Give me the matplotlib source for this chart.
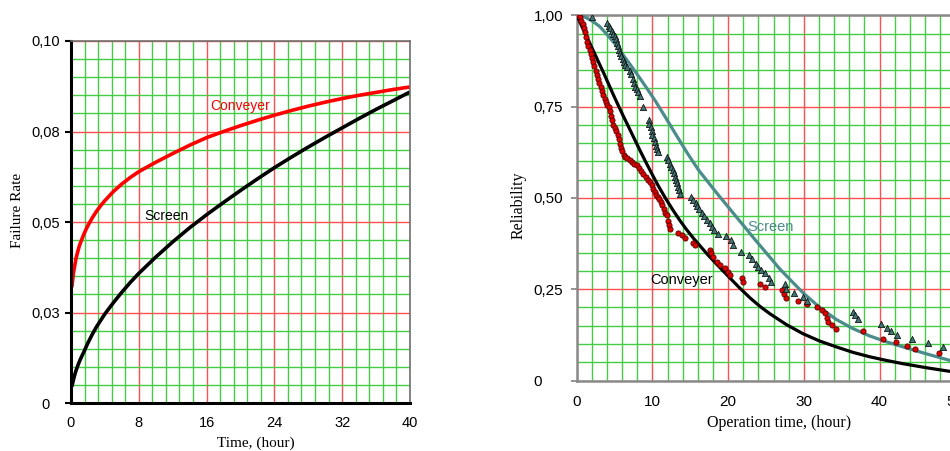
import matplotlib
matplotlib.use('Agg')
import matplotlib.pyplot as plt
from matplotlib.ticker import MultipleLocator

plt.rcParams['font.family'] = ['Liberation Sans', 'DejaVu Sans']

# left panel: failure rate vs time
rate_t = [0.1, 0.2, 0.3, 0.45, 0.6, 0.8, 1.0, 1.25, 1.5, 1.75, 2, 2.5, 3, 3.5, 4, 5, 6, 7,
          8, 10, 12, 14, 16, 18, 20, 22, 24, 26, 28, 30, 32, 34, 36, 38, 40]
conv_rate = [0.032, 0.034, 0.036, 0.038, 0.040, 0.0418, 0.0435, 0.045, 0.0465, 0.0478,
             0.049, 0.0511, 0.0529, 0.0545, 0.0559, 0.0584, 0.0605, 0.0623, 0.0639,
             0.0665, 0.0689, 0.0712, 0.0733, 0.075, 0.0766, 0.0781, 0.0795, 0.0808,
             0.082, 0.0831, 0.0841, 0.085, 0.0858, 0.0866, 0.0873]
screen_rate = [0.0045, 0.0055, 0.0065, 0.0078, 0.009, 0.0103, 0.0115, 0.0128, 0.014,
               0.0153, 0.0166, 0.0189, 0.021, 0.0228, 0.0246, 0.0277, 0.0306, 0.0333,
               0.0358, 0.0403, 0.0445, 0.0484, 0.052, 0.0554, 0.0587, 0.0619, 0.065,
               0.0679, 0.0707, 0.0734, 0.076, 0.0786, 0.0811, 0.0835, 0.0859]
rate_yticks = [0, 0.025, 0.05, 0.075, 0.10]
rate_ylabels = ['0', '0,03', '0,05', '0,08', '0,10']
rate_xticks = [0, 8, 16, 24, 32, 40]

# right panel: reliability vs operation time (fitted curves)
fit_conv_t = [0, 0.8, 1.6, 2.3, 2.9, 3.6, 4.2, 4.8, 5.4, 6.2, 7.0, 7.7, 8.4, 9.2, 10.0,
              10.8, 11.7, 12.6, 13.5, 14.4, 15.4, 16.4, 17.5, 18.6, 19.8, 21.3, 22.9,
              24.2, 25.5, 27.7, 29.9, 32.1, 34.3, 36.5, 38.7, 40.9, 43.1, 46.2, 49.3, 51]
fit_conv_r = [1.0, 0.964, 0.929, 0.898, 0.871, 0.84, 0.812, 0.784, 0.757, 0.722, 0.688,
              0.658, 0.628, 0.595, 0.563, 0.532, 0.5, 0.47, 0.442, 0.416, 0.39, 0.366,
              0.34, 0.316, 0.29, 0.258, 0.226, 0.203, 0.183, 0.153, 0.128, 0.108, 0.092,
              0.077, 0.065, 0.055, 0.046, 0.035, 0.025, 0.021]
fit_screen_t = [0, 1, 2, 3, 3.8, 5, 6, 7.1, 8.2, 9.3, 10.4, 11.8, 13.2, 14.6, 16.1, 17.4,
                18.7, 19.9, 21.0, 22.2, 23.3, 24.4, 25.5, 26.8, 28.2, 29.9, 32.1, 34.3,
                36.5, 38.7, 40.9, 43.1, 46.2, 49.3, 51]
fit_screen_r = [1.0, 0.996, 0.985, 0.97, 0.952, 0.923, 0.895, 0.864, 0.832, 0.799, 0.765,
                0.718, 0.67, 0.623, 0.576, 0.542, 0.508, 0.478, 0.45, 0.42, 0.392, 0.365,
                0.338, 0.306, 0.276, 0.24, 0.2, 0.167, 0.142, 0.122, 0.106, 0.092, 0.073,
                0.055, 0.049]

# observed points
conv_obs_t = [0.2, 0.4, 0.6, 0.8, 1.0, 1.1, 1.25, 1.4, 1.55, 1.7, 1.85, 2.0, 2.15, 2.3,
              2.5, 2.7, 2.85, 3.0, 3.15, 3.3, 3.5, 3.7, 3.85, 4.0, 4.2, 4.4, 4.55, 4.7,
              4.85, 5.0, 5.2, 5.4, 5.55, 5.7, 5.85, 6.0, 6.2, 6.4, 6.7, 7.0, 7.3, 7.6,
              7.9, 8.2, 8.5, 8.8, 9.1, 9.4, 9.7, 9.9, 10.1, 10.3, 10.5, 10.7, 10.9, 11.1,
              11.3, 11.5, 11.7, 11.9, 12.1, 12.25, 12.35,
              13.4, 13.9, 14.3, 15.4, 15.6, 17.6, 17.8, 18.0, 18.5, 18.9, 19.6, 20.0,
              20.3, 21.8, 21.9, 24.2, 24.9, 27.1, 27.4, 27.6, 29.2, 30.4, 31.7, 32.4,
              32.8, 33.1, 33.2, 33.7, 34.2, 37.8, 40.4, 42.2, 43.6, 44.7, 47.9]
conv_obs_r = [1.0, 0.995, 0.985, 0.975, 0.965, 0.955, 0.94, 0.928, 0.915, 0.905, 0.895,
              0.883, 0.872, 0.86, 0.848, 0.837, 0.826, 0.815, 0.803, 0.792, 0.782, 0.772,
              0.763, 0.755, 0.748, 0.738, 0.725, 0.712, 0.7, 0.692, 0.684, 0.673, 0.66,
              0.648, 0.637, 0.628, 0.618, 0.612, 0.608, 0.603, 0.598, 0.594, 0.589,
              0.582, 0.575, 0.566, 0.558, 0.55, 0.543, 0.535, 0.525, 0.515, 0.508,
              0.502, 0.497, 0.49, 0.48, 0.47, 0.46, 0.452, 0.438, 0.425, 0.415,
              0.403, 0.398, 0.389, 0.376, 0.37, 0.357, 0.348, 0.337, 0.325, 0.316,
              0.307, 0.298, 0.289, 0.28, 0.271, 0.265, 0.257, 0.248, 0.237, 0.227,
              0.217, 0.209, 0.2, 0.193, 0.184, 0.17, 0.161, 0.152, 0.142, 0.135, 0.114,
              0.105, 0.094, 0.086, 0.076]
screen_obs_t = [2.0, 4.0, 4.2, 4.4, 4.6, 4.8, 5.0, 5.2, 5.3, 5.45, 5.6, 5.75, 5.9, 6.05,
                6.2, 6.4, 6.6, 7.0, 7.2, 7.4, 7.55, 7.7, 7.9, 8.1, 8.3, 8.7,
                9.5, 9.6, 9.75, 9.9, 10.0, 10.15, 10.3, 10.45, 10.6, 10.8,
                11.9, 12.1, 12.3, 12.5, 12.7, 12.85, 13.0, 13.1, 13.25, 13.4, 13.5, 13.65,
                15.1, 15.4, 15.7, 15.9, 16.2, 16.5, 16.8, 17.2, 17.6, 17.9, 18.1, 18.7,
                19.7, 20.4, 20.7, 21.7, 22.7, 23.1, 23.7, 24.0, 24.4, 24.9, 25.4, 25.6,
                27.5, 27.6, 28.7, 29.9, 30.4, 36.5, 36.8, 37.1, 40.2, 41.0, 41.5, 42.3,
                44.3, 46.4, 48.4]
screen_obs_r = [0.995, 0.98, 0.972, 0.965, 0.957, 0.95, 0.942, 0.935, 0.925, 0.915, 0.905,
                0.897, 0.888, 0.88, 0.872, 0.865, 0.858, 0.848, 0.838, 0.826, 0.814,
                0.805, 0.797, 0.79, 0.78, 0.748,
                0.713, 0.703, 0.693, 0.683, 0.673, 0.663, 0.653, 0.643, 0.635, 0.627,
                0.612, 0.603, 0.594, 0.585, 0.576, 0.567, 0.558, 0.549, 0.54, 0.53, 0.521,
                0.512, 0.503, 0.494, 0.485, 0.478, 0.469, 0.46, 0.45, 0.44, 0.43, 0.42,
                0.411, 0.402, 0.397, 0.385, 0.37, 0.352, 0.343, 0.333, 0.32, 0.311, 0.302,
                0.293, 0.281, 0.27, 0.263, 0.25, 0.24, 0.228, 0.219, 0.188, 0.179, 0.168,
                0.155, 0.143, 0.136, 0.125, 0.114, 0.104, 0.093]
rel_yticks = [0, 0.25, 0.5, 0.75, 1.0]
rel_ylabels = ['0', '0,25', '0,50', '0,75', '1,00']
rel_xticks = [0, 10, 20, 30, 40, 50]

RED_GRID = '#ff5050'
GREEN_GRID = '#44cc44'
TEAL = '#4a8b8b'
SERIF = ['Liberation Serif', 'DejaVu Serif']


def grid_style(ax):
    ax.grid(which='minor', color=GREEN_GRID, lw=1.0)
    ax.grid(which='major', color=RED_GRID, lw=1.0)
    ax.set_axisbelow(True)
    ax.tick_params(which='minor', length=0)


fig = plt.figure(figsize=(9.5, 4.51), dpi=100)

# ---- left: failure rate
ax1 = fig.add_axes([0.0747, 0.1064, 0.3568, 0.8027])
ax1.plot(rate_t, conv_rate, color='#ff0000', lw=2.6, solid_capstyle='butt')
ax1.plot(rate_t, screen_rate, color='black', lw=2.6, solid_capstyle='butt')
ax1.set_xlim(0, 40)
ax1.set_ylim(0, 0.10)
ax1.set_xticks(rate_xticks)
ax1.set_yticks(rate_yticks, rate_ylabels)
ax1.xaxis.set_minor_locator(MultipleLocator(1.6))
ax1.yaxis.set_minor_locator(MultipleLocator(0.005))
grid_style(ax1)
ax1.tick_params(axis='x', length=0, pad=9, labelsize=10.5)
ax1.tick_params(axis='y', length=4, width=1.5, pad=14, labelsize=10.5)
for lab in ax1.get_yticklabels():
    lab.set_ha('center')
for side in ['left', 'bottom']:
    ax1.spines[side].set_color('black')
    ax1.spines[side].set_linewidth(2.2)
for side in ['top', 'right']:
    ax1.spines[side].set_color('#707070')
    ax1.spines[side].set_linewidth(1.2)
ax1.text(16.4, 0.082, 'Conveyer', color='#ff0000', fontsize=10, va='center')
ax1.text(8.6, 0.0517, 'Screen', color='black', fontsize=10, va='center')
fig.text(0.2695, 0.018, 'Time, (hour)', family=SERIF, fontsize=11, ha='center', va='center')
fig.text(0.018, 0.534, 'Failure Rate', family=SERIF, fontsize=11, rotation=90,
         ha='center', va='center')

# ---- right: reliability
ax2 = fig.add_axes([0.6071, 0.1563, 0.3984, 0.8098])
ax2.plot(fit_screen_t, fit_screen_r, color=TEAL, lw=2.3, zorder=3)
ax2.plot(fit_conv_t, fit_conv_r, color='black', lw=2.3, zorder=3)
ax2.scatter(conv_obs_t, conv_obs_r, s=14, marker='o', facecolor='#e00000',
            edgecolor='#5a0000', linewidths=0.6, zorder=4)
ax2.scatter(screen_obs_t, screen_obs_r, s=20, marker='^', facecolor='#3f7676',
            edgecolor='#151515', linewidths=0.6, zorder=4)
ax2.set_xlim(0, 50)
ax2.set_ylim(0, 1.0)
ax2.set_xticks(rel_xticks)
ax2.set_yticks(rel_yticks, rel_ylabels)
ax2.xaxis.set_minor_locator(MultipleLocator(2))
ax2.yaxis.set_minor_locator(MultipleLocator(0.05))
grid_style(ax2)
ax2.tick_params(axis='x', length=0, pad=10.5, labelsize=11)
ax2.tick_params(axis='y', length=4, width=1.2, color='#808080', pad=27, labelsize=11)
for lab in ax2.get_yticklabels():
    lab.set_ha('left')
for side in ['left', 'bottom', 'top', 'right']:
    ax2.spines[side].set_color('#8a8a8a')
    ax2.spines[side].set_linewidth(1.8)
ax2.text(22.5, 0.42, 'Screen', color=TEAL, fontsize=10.5, va='center')
ax2.text(9.7, 0.275, 'Conveyer', color='black', fontsize=10.5, va='center')
fig.text(0.82, 0.062, 'Operation time, (hour)', family=SERIF, fontsize=11.5,
         ha='center', va='center')
fig.text(0.546, 0.545, 'Reliability', family=SERIF, fontsize=11.5, rotation=90,
         ha='center', va='center')

fig.savefig('out.png', dpi=100)
